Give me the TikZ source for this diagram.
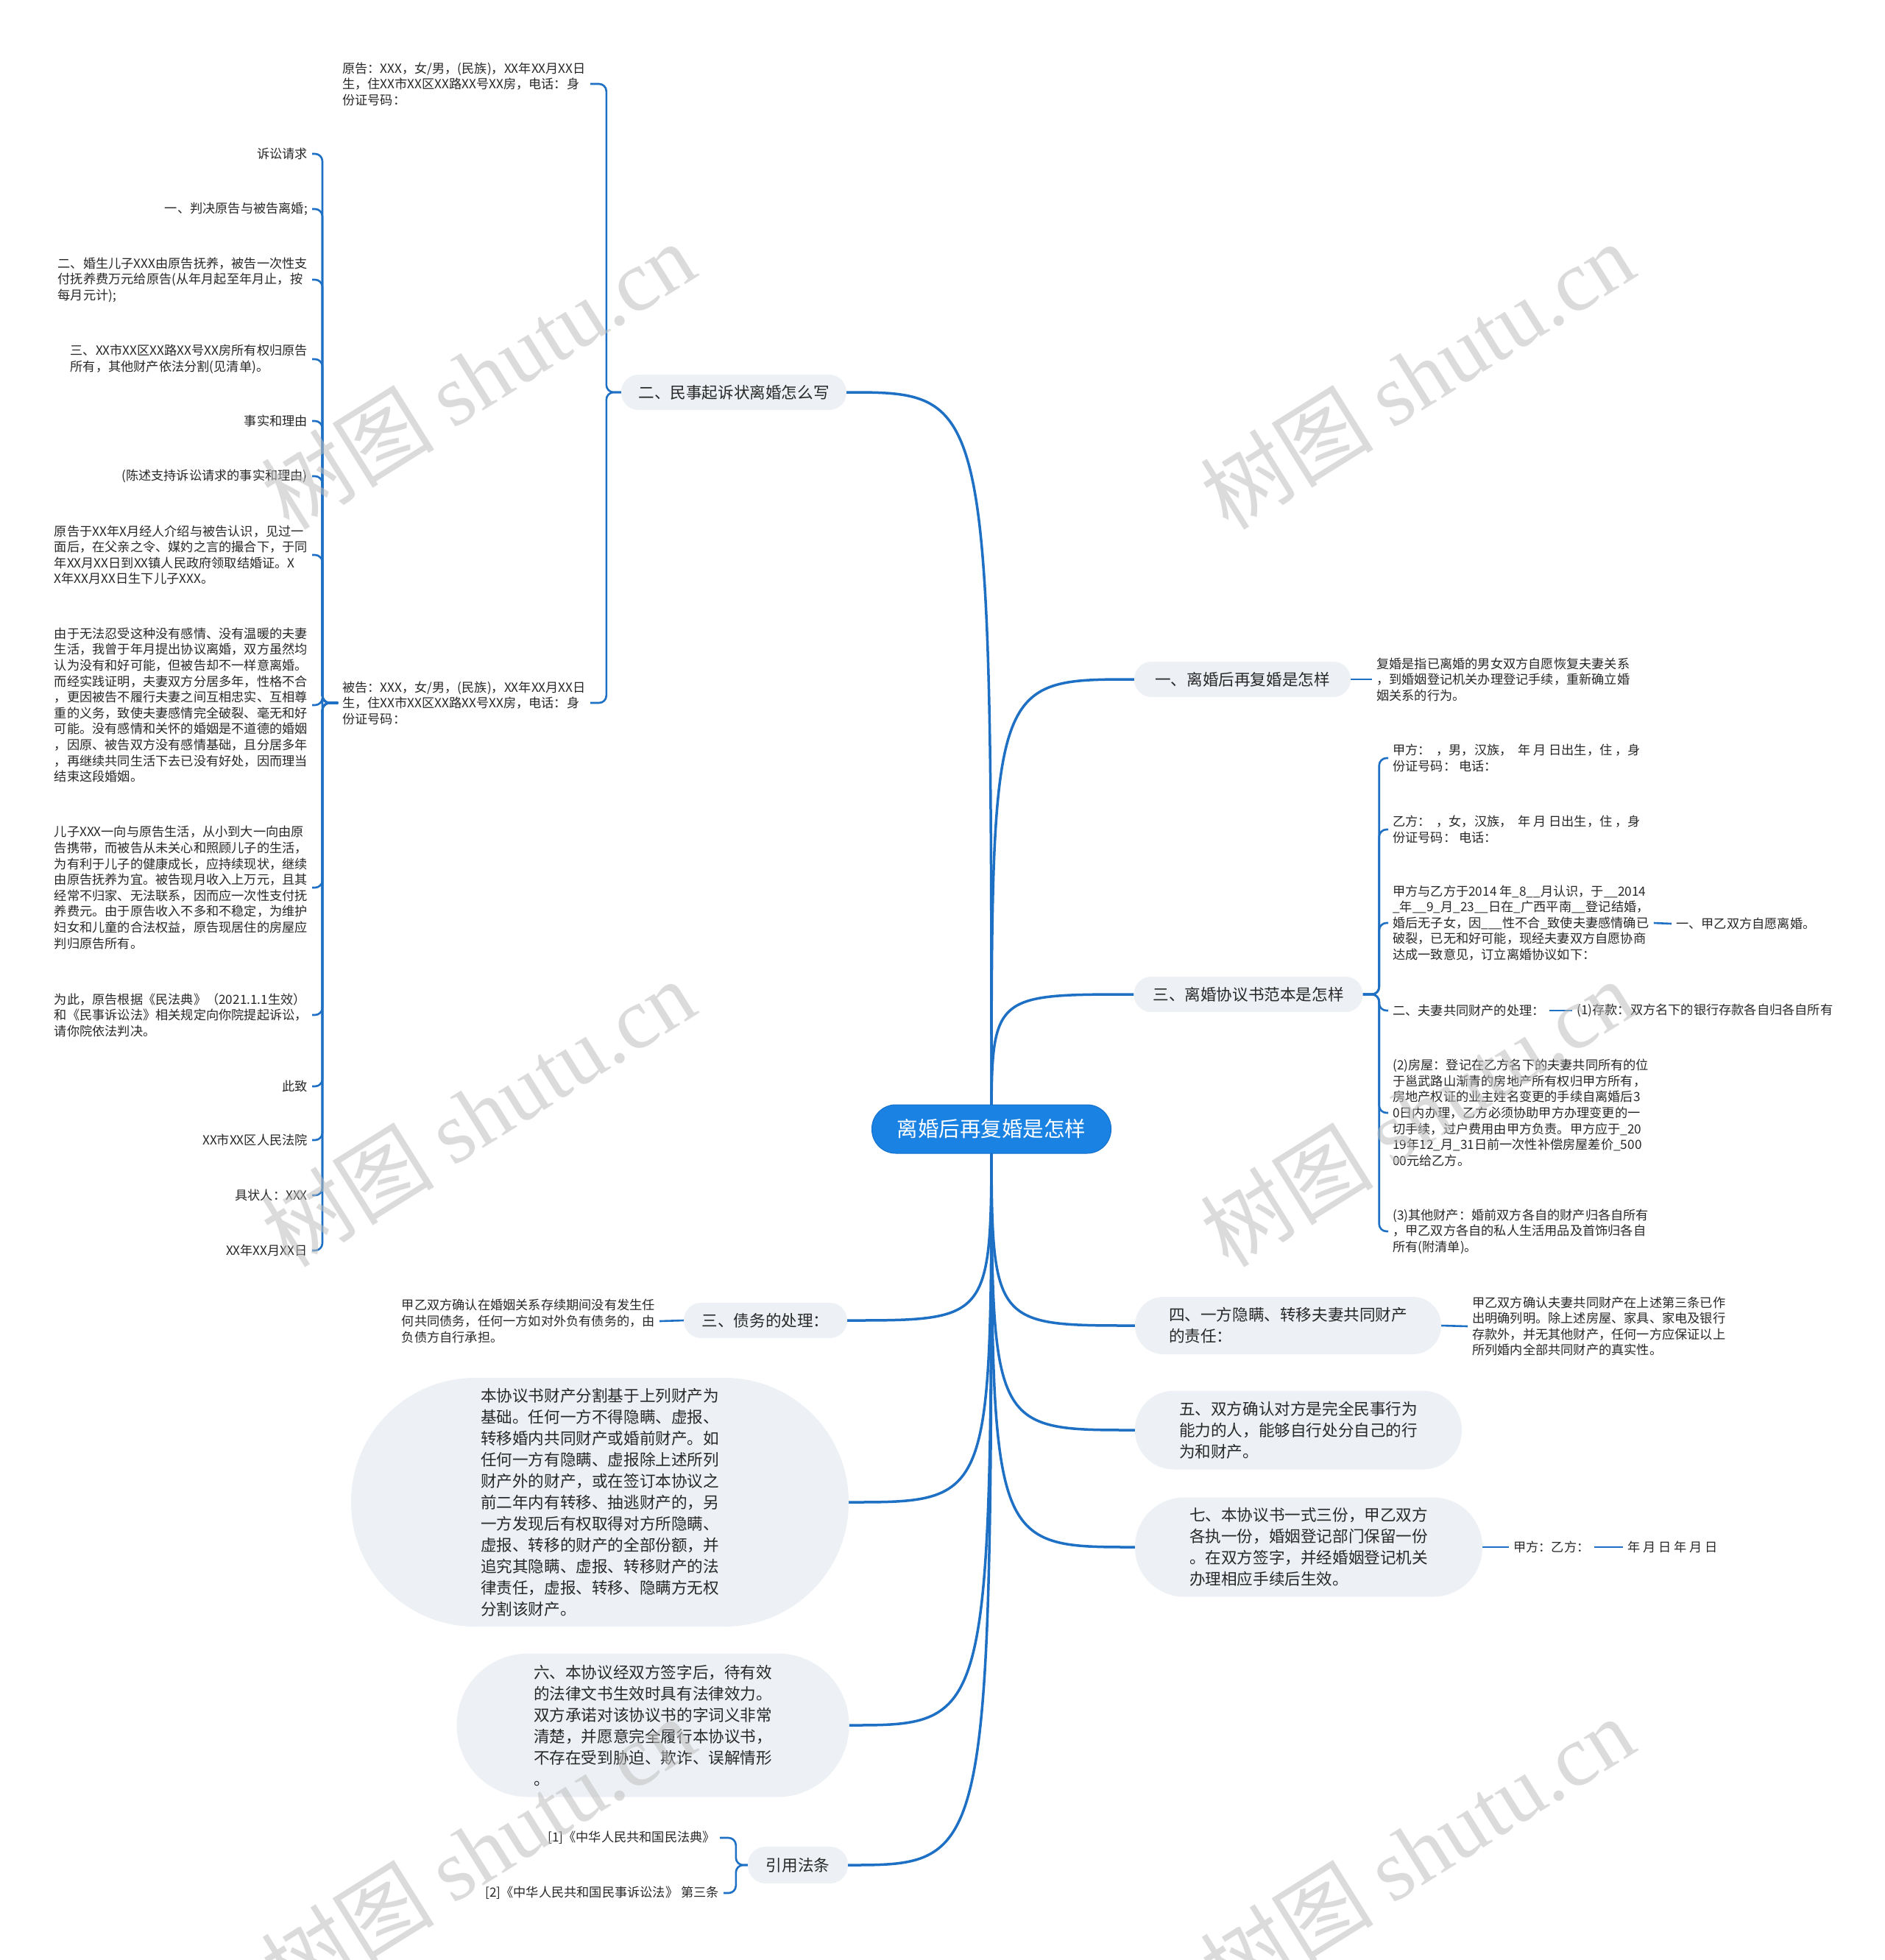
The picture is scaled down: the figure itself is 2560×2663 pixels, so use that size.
\documentclass[tikz,border=0pt]{standalone}
\usepackage{fontspec}
\setmainfont{Noto Sans CJK SC}
\newfontfamily\wmserif{Liberation Serif}
\usetikzlibrary{backgrounds}
\definecolor{lineblue}{RGB}{30,112,196}
\definecolor{cblue}{RGB}{26,130,226}
\definecolor{cborder}{RGB}{22,112,204}
\definecolor{bfill}{RGB}{237,241,245}
\definecolor{tdark}{RGB}{40,40,40}
\definecolor{wmgray}{RGB}{190,190,190}
\tikzset{
  leaf/.style={inner xsep=6pt, inner ysep=2pt, align=left, text=tdark, font=\fontsize{17.2}{21.6}\selectfont},
  branch/.style={fill=bfill, draw=none, align=left, text=tdark, font=\fontsize{21.6}{29}\selectfont, inner sep=0pt},
  centernode/.style={fill=cblue, draw=cborder, line width=1pt, text=white, font=\fontsize{28.5}{34}\selectfont, minimum width=325pt, minimum height=66pt, rounded corners=32.5pt, inner sep=0pt},
  mainline/.style={draw=lineblue, line width=3.5pt},
  br/.style={draw=lineblue, line width=2.6pt, rounded corners=10pt},
  wmark/.style={text=wmgray, opacity=0.55, rotate=32, font=\fontsize{118}{120}\selectfont, inner sep=0pt}
}
\begin{document}
\begin{tikzpicture}[x=1pt,y=-1pt]
\useasboundingbox (0,0) rectangle (2560,2663);
\begin{scope}[on background layer]
\fill[white] (0,0) rectangle (2560,2663);
\end{scope}

% centre
\node[centernode] (C) at (1347,1534) {离婚后再复婚是怎样};

% branches
\node[branch, minimum width=306pt, minimum height=48pt, rounded corners=23.5pt] (B2) at (997,533) {二、民事起诉状离婚怎么写};
\node[branch, minimum width=294pt, minimum height=48pt, rounded corners=23.5pt] (B1) at (1688,923) {一、离婚后再复婚是怎样};
\node[branch, minimum width=311pt, minimum height=48pt, rounded corners=23.5pt] (B3) at (1696,1351) {三、离婚协议书范本是怎样};
\node[branch, minimum width=222pt, minimum height=48pt, rounded corners=23.5pt] (BD) at (1040,1794) {三、债务的处理：};
\node[branch, minimum width=676pt, minimum height=338pt, rounded corners=168.5pt] (BP) at (815,2041) {本协议书财产分割基于上列财产为\\基础。任何一方不得隐瞒、虚报、\\转移婚内共同财产或婚前财产。如\\任何一方有隐瞒、虚报除上述所列\\财产外的财产，或在签订本协议之\\前二年内有转移、抽逃财产的，另\\一方发现后有权取得对方所隐瞒、\\虚报、转移的财产的全部份额，并\\追究其隐瞒、虚报、转移财产的法\\律责任，虚报、转移、隐瞒方无权\\分割该财产。};
\node[branch, minimum width=533pt, minimum height=195pt, rounded corners=97pt] (B6) at (887,2344) {六、本协议经双方签字后，待有效\\的法律文书生效时具有法律效力。\\双方承诺对该协议书的字词义非常\\清楚，并愿意完全履行本协议书，\\不存在受到胁迫、欺诈、误解情形\\。};
\node[branch, minimum width=136pt, minimum height=50pt, rounded corners=24.5pt] (BL) at (1084,2534) {引用法条};
\node[branch, minimum width=416pt, minimum height=78pt, rounded corners=38.5pt] (B4) at (1750,1801) {四、一方隐瞒、转移夫妻共同财产\\的责任：};
\node[branch, minimum width=444pt, minimum height=107pt, rounded corners=53pt] (B5) at (1764,1943) {五、双方确认对方是完全民事行为\\能力的人，能够自行处分自己的行\\为和财产。};
\node[branch, minimum width=472pt, minimum height=135pt, rounded corners=67pt] (B7) at (1778,2102) {七、本协议书一式三份，甲乙双方\\各执一份，婚姻登记部门保留一份\\。在双方签字，并经婚姻登记机关\\办理相应手续后生效。};

% branch 二 children
\node[leaf, anchor=west] (P1) at (459,114) {原告：XXX，女/男，(民族)，XX年XX月XX日\\生，住XX市XX区XX路XX号XX房，电话：身\\份证号码：};
\node[leaf, anchor=west] (P2) at (459,955) {被告：XXX，女/男，(民族)，XX年XX月XX日\\生，住XX市XX区XX路XX号XX房，电话：身\\份证号码：};

\node[leaf, anchor=east] (L1) at (424,209) {诉讼请求};
\node[leaf, anchor=east] (L2) at (424,284) {一、判决原告与被告离婚;};
\node[leaf, anchor=east] (L3) at (424,380) {二、婚生儿子XXX由原告抚养，被告一次性支\\付抚养费万元给原告(从年月起至年月止，按\\每月元计);};
\node[leaf, anchor=east] (L4) at (424,488) {三、XX市XX区XX路XX号XX房所有权归原告\\所有，其他财产依法分割(见清单)。};
\node[leaf, anchor=east] (L5) at (424,572) {事实和理由};
\node[leaf, anchor=east] (L6) at (424,647) {(陈述支持诉讼请求的事实和理由)};
\node[leaf, anchor=east] (L7) at (424,754) {原告于XX年X月经人介绍与被告认识，见过一\\面后，在父亲之令、媒妁之言的撮合下，于同\\年XX月XX日到XX镇人民政府领取结婚证。X\\X年XX月XX日生下儿子XXX。};
\node[leaf, anchor=east] (L8) at (424,958) {由于无法忍受这种没有感情、没有温暖的夫妻\\生活，我曾于年月提出协议离婚，双方虽然均\\认为没有和好可能，但被告却不一样意离婚。\\而经实践证明，夫妻双方分居多年，性格不合\\，更因被告不履行夫妻之间互相忠实、互相尊\\重的义务，致使夫妻感情完全破裂、毫无和好\\可能。没有感情和关怀的婚姻是不道德的婚姻\\，因原、被告双方没有感情基础，且分居多年\\，再继续共同生活下去已没有好处，因而理当\\结束这段婚姻。};
\node[leaf, anchor=east] (L9) at (424,1206) {儿子XXX一向与原告生活，从小到大一向由原\\告携带，而被告从未关心和照顾儿子的生活，\\为有利于儿子的健康成长，应持续现状，继续\\由原告抚养为宜。被告现月收入上万元，且其\\经常不归家、无法联系，因而应一次性支付抚\\养费元。由于原告收入不多和不稳定，为维护\\妇女和儿童的合法权益，原告现居住的房屋应\\判归原告所有。};
\node[leaf, anchor=east] (L10) at (424,1379) {为此，原告根据《民法典》（2021.1.1生效）\\和《民事诉讼法》相关规定向你院提起诉讼，\\请你院依法判决。};
\node[leaf, anchor=east] (L11) at (424,1476) {此致};
\node[leaf, anchor=east] (L12) at (424,1549) {XX市XX区人民法院};
\node[leaf, anchor=east] (L13) at (424,1624) {具状人：XXX};
\node[leaf, anchor=east] (L14) at (424,1699) {XX年XX月XX日};

% branch 一 child
\node[leaf, anchor=west] (R1) at (1864,923) {复婚是指已离婚的男女双方自愿恢复夫妻关系\\，到婚姻登记机关办理登记手续，重新确立婚\\姻关系的行为。};

% branch 三 (agreement) children
\node[leaf, anchor=west] (A1) at (1886,1030) {甲方：\ \ ，男，汉族，\ \ 年 月 日出生，住\ ，身\\份证号码：\ 电话：};
\node[leaf, anchor=west] (A2) at (1886,1127) {乙方：\ \ ，女，汉族，\ \ 年 月 日出生，住\ ，身\\份证号码：\ 电话：};
\node[leaf, anchor=west] (A3) at (1886,1254) {甲方与乙方于2014 年\_8\_\_月认识，于\_\_2014\\\_年\_\_9\_月\_23\_\_日在\_广西平南\_\_登记结婚，\\婚后无子女，因\_\_\_性不合\_致使夫妻感情确已\\破裂，已无和好可能，现经夫妻双方自愿协商\\达成一致意见，订立离婚协议如下：};
\node[leaf, anchor=west] (A3a) at (2271,1255) {一、甲乙双方自愿离婚。};
\node[leaf, anchor=west] (A4) at (1886,1373) {二、夫妻共同财产的处理：};
\node[leaf, anchor=west] (A4a) at (2136,1373) {(1)存款：双方名下的银行存款各自归各自所有};
\node[leaf, anchor=west] (A5) at (1886,1512) {(2)房屋：登记在乙方名下的夫妻共同所有的位\\于邕武路山渐青的房地产所有权归甲方所有，\\房地产权证的业主姓名变更的手续自离婚后3\\0日内办理，乙方必须协助甲方办理变更的一\\切手续，过户费用由甲方负责。甲方应于\_20\\19年12\_月\_31日前一次性补偿房屋差价\_500\\00元给乙方。};
\node[leaf, anchor=west] (A6) at (1886,1673) {(3)其他财产：婚前双方各自的财产归各自所有\\，甲乙双方各自的私人生活用品及首饰归各自\\所有(附清单)。};

% other children
\node[leaf, anchor=west] (R4) at (1994,1802) {甲乙双方确认夫妻共同财产在上述第三条已作\\出明确列明。除上述房屋、家具、家电及银行\\存款外，并无其他财产，任何一方应保证以上\\所列婚内全部共同财产的真实性。};
\node[leaf, anchor=west] (R7) at (2050,2102) {甲方：乙方：};
\node[leaf, anchor=west] (R7a) at (2205,2102) {年 月 日 年 月 日};
\node[leaf, anchor=east] (RD) at (896,1795) {甲乙双方确认在婚姻关系存续期间没有发生任\\何共同债务，任何一方如对外负有债务的，由\\负债方自行承担。};
\node[leaf, anchor=east] (LW1) at (978,2497) {[1]《中华人民共和国民法典》};
\node[leaf, anchor=east] (LW2) at (983,2572) {[2]《中华人民共和国民事诉讼法》 第三条};

\begin{scope}[on background layer]
% centre to branches
\draw[mainline] (C.center) .. controls (C.center |- B2.east) .. (B2.east);
\draw[mainline] (C.center) .. controls (C.center |- B1.west) .. (B1.west);
\draw[mainline] (C.center) .. controls (C.center |- B3.west) .. (B3.west);
\draw[mainline] (C.center) .. controls (C.center |- BD.east) .. (BD.east);
\draw[mainline] (C.center) .. controls (C.center |- BP.east) .. (BP.east);
\draw[mainline] (C.center) .. controls (C.center |- B6.east) .. (B6.east);
\draw[mainline] (C.center) .. controls (C.center |- BL.east) .. (BL.east);
\draw[mainline] (C.center) .. controls (C.center |- B4.west) .. (B4.west);
\draw[mainline] (C.center) .. controls (C.center |- B5.west) .. (B5.west);
\draw[mainline] (C.center) .. controls (C.center |- B7.west) .. (B7.west);
% brackets
\foreach \n in {P1,P2} {\draw[br] (B2.west) -- ++(-20,0) |- (\n.east);}
\foreach \n in {L1,L2,L3,L4,L5,L6,L7,L8,L9,L10,L11,L12,L13,L14} {\draw[br] (P2.west) -- ++(-21,0) |- (\n.east);}
\foreach \n in {A1,A2,A3,A4,A5,A6} {\draw[br] (B3.east) -- ++(22,0) |- (\n.west);}
\foreach \n in {LW1,LW2} {\draw[br] (BL.west) -- ++(-16,0) |- (\n.east);}
\draw[br] (B1.east) -- (R1.west);
\draw[br] (A3.east) -- (A3a.west);
\draw[br] (A4.east) -- (A4a.west);
\draw[br] (B4.east) -- (R4.west);
\draw[br] (B7.east) -- (R7.west);
\draw[br] (R7.east) -- (R7a.west);
\draw[br] (BD.west) -- (RD.east);
\end{scope}

% watermarks
\node[wmark] (W1) at (649,510) {树图 {\wmserif shutu.cn}};
\node[wmark] (W2) at (1925,510) {树图 {\wmserif shutu.cn}};
\node[wmark] (W3) at (649,1512) {树图 {\wmserif shutu.cn}};
\node[wmark] (W4) at (1925,1512) {树图 {\wmserif shutu.cn}};
\node[wmark] (W5) at (649,2514) {树图 {\wmserif shutu.cn}};
\node[wmark] (W6) at (1925,2514) {树图 {\wmserif shutu.cn}};
\end{tikzpicture}
\end{document}
